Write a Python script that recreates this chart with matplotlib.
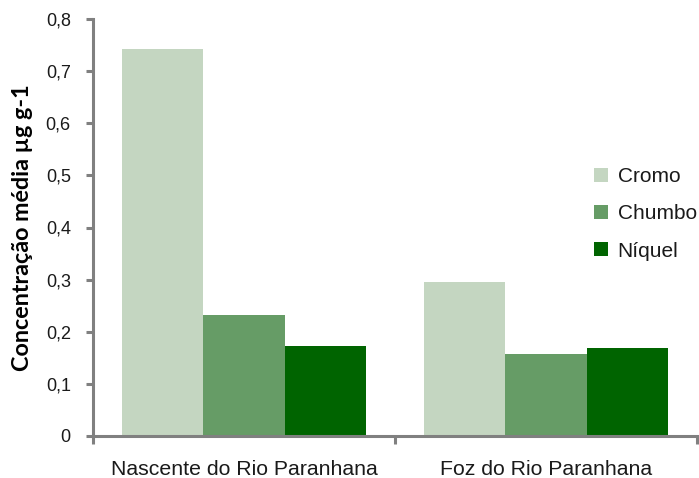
import numpy as np
import matplotlib.pyplot as plt
from matplotlib.ticker import FixedLocator, FuncFormatter

# valores
locais = ["Nascente do Rio Paranhana", "Foz do Rio Paranhana"]
metais = ["Cromo", "Chumbo", "Níquel"]
cromo = [0.742, 0.295]
chumbo = [0.232, 0.157]
niquel = [0.173, 0.169]
yticks = [0, 0.1, 0.2, 0.3, 0.4, 0.5, 0.6, 0.7, 0.8]

cores = ["#C4D6C1", "#669C66", "#006400"]
cinza = "#808080"
texto = "#1a1a1a"

plt.rcParams['font.family'] = ['Liberation Sans', 'DejaVu Sans']

fig = plt.figure(figsize=(6.99, 4.78), dpi=100)
ax = fig.add_axes([93/699, 42/478, 604/699, 417/478])

x = np.arange(len(locais))
w = 0.27
series = [cromo, chumbo, niquel]
for i, (vals, cor, nome) in enumerate(zip(series, cores, metais)):
    ax.bar(x + (i - 1) * w, vals, width=w, color=cor, label=nome, linewidth=0)

ax.set_xlim(-0.5, 1.5)
ax.set_ylim(0, 0.8)

# eixos cinza, sem topo/direita
for s in ["top", "right"]:
    ax.spines[s].set_visible(False)
for s in ["left", "bottom"]:
    ax.spines[s].set_color(cinza)
    ax.spines[s].set_linewidth(2.2)

ax.yaxis.set_major_locator(FixedLocator(yticks))
ax.yaxis.set_major_formatter(FuncFormatter(lambda v, p: ("%g" % round(v, 1)).replace(".", ",")))
ax.tick_params(axis="y", length=5, width=2.2, color=cinza, labelsize=13, pad=11, labelcolor=texto)

# ticks do eixo x nas divisões das categorias, rótulos no centro
ax.xaxis.set_major_locator(FixedLocator([-0.5, 0.5, 1.5]))
ax.xaxis.set_major_formatter(FuncFormatter(lambda v, p: ""))
ax.xaxis.set_minor_locator(FixedLocator(x))
ax.set_xticklabels(locais, minor=True)
ax.tick_params(axis="x", which="major", length=6, width=2.2, color=cinza)
ax.tick_params(axis="x", which="minor", length=0, labelsize=15.3, pad=17, labelcolor=texto)

ax.set_ylabel("Concentração média µg g-1", family=["Lato", "DejaVu Sans"],
              fontweight="bold", fontsize=16.8, labelpad=9, color="black")

leg = ax.legend(loc="upper left", bbox_to_anchor=(0.829, 0.645), frameon=False,
                fontsize=15, handlelength=0.67, handleheight=0.67,
                labelspacing=0.88, handletextpad=0.48, borderaxespad=0, borderpad=0)
for t in leg.get_texts():
    t.set_color(texto)

fig.savefig("out.png", dpi=100)
